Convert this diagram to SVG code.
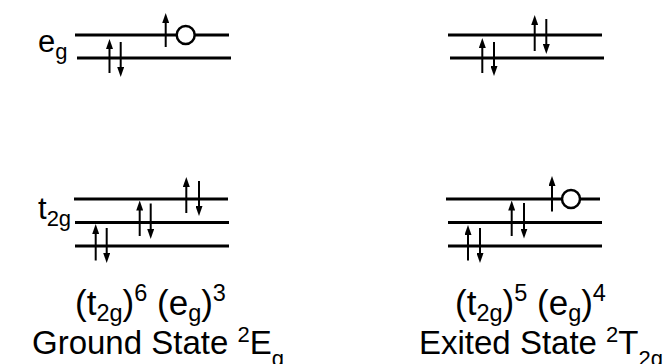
<svg xmlns="http://www.w3.org/2000/svg" width="666" height="364" viewBox="0 0 666 364">
<style>
.lvl{stroke:#000;stroke-width:2.8;fill:none}
.arr{stroke:#000;stroke-width:2;fill:none;marker-end:url(#ah)}
.hole{fill:#fff;stroke:#000;stroke-width:2.5}
text{font-family:"Liberation Sans",Arial,sans-serif;fill:#000}
.lab{font-size:31px}
.big{font-size:33px}
.cfg{font-size:35px}
.sm{font-size:22px}
.sm2{font-size:23.5px}
</style>
<defs>
<marker id="ah" markerUnits="userSpaceOnUse" markerWidth="10" markerHeight="7" refX="2" refY="3.5" orient="auto" viewBox="0 0 10 7">
<path d="M0,0 L10,3.5 L0,7 Z" fill="#000"/>
</marker>
</defs>
<g id="labels">
<text class="lab" x="38" y="52">e<tspan class="sm" dy="7">g</tspan></text>
<text class="lab" x="38" y="219">t<tspan class="sm" dy="7">2g</tspan></text>
</g>
<g id="ground-eg">
<line class="lvl" x1="75" y1="35" x2="229" y2="35"/>
<line class="lvl" x1="77" y1="58" x2="231" y2="58"/>
</g>
<g id="ground-t2g">
<line class="lvl" x1="74" y1="199" x2="228" y2="199"/>
<line class="lvl" x1="75" y1="222.5" x2="229" y2="222.5"/>
<line class="lvl" x1="75" y1="246" x2="229" y2="246"/>
</g>
<g id="excited-eg">
<line class="lvl" x1="448" y1="35" x2="602" y2="35"/>
<line class="lvl" x1="450" y1="58" x2="604" y2="58"/>
</g>
<g id="excited-t2g">
<line class="lvl" x1="446" y1="199" x2="600" y2="199"/>
<line class="lvl" x1="448" y1="222.5" x2="602" y2="222.5"/>
<line class="lvl" x1="448" y1="246" x2="602" y2="246"/>
</g>
<g id="connectors">
<line class="arr" x1="165.7" y1="47" x2="165.7" y2="21"/>
<line class="arr" x1="109.5" y1="73" x2="109.5" y2="47"/>
<line class="arr" x1="120.7" y1="42" x2="120.7" y2="69"/>
<line class="arr" x1="186.3" y1="213" x2="186.3" y2="185"/>
<line class="arr" x1="199" y1="181" x2="199" y2="208"/>
<line class="arr" x1="139.7" y1="236" x2="139.7" y2="208.5"/>
<line class="arr" x1="150.7" y1="203.5" x2="150.7" y2="231"/>
<line class="arr" x1="95.7" y1="260.5" x2="95.7" y2="232"/>
<line class="arr" x1="106.7" y1="228" x2="106.7" y2="255"/>
<line class="arr" x1="534.7" y1="51" x2="534.7" y2="23"/>
<line class="arr" x1="546.3" y1="19" x2="546.3" y2="46"/>
<line class="arr" x1="482.3" y1="73" x2="482.3" y2="46"/>
<line class="arr" x1="494" y1="42" x2="494" y2="68"/>
<line class="arr" x1="552" y1="211.5" x2="552" y2="184"/>
<line class="arr" x1="511.7" y1="236" x2="511.7" y2="208.5"/>
<line class="arr" x1="524" y1="203" x2="524" y2="230.5"/>
<line class="arr" x1="468" y1="260.5" x2="468" y2="233"/>
<line class="arr" x1="480" y1="228" x2="480" y2="255"/>
</g>
<g id="holes">
<circle class="hole" cx="185.7" cy="35" r="9"/>
<circle class="hole" cx="571" cy="199" r="9"/>
</g>
<g id="ground-caption">
<text class="cfg" x="75" y="315">(t<tspan class="sm2" dy="6">2g</tspan><tspan dy="-6">)</tspan><tspan class="sm2" dy="-14">6</tspan><tspan dy="14"> (e</tspan><tspan class="sm2" dy="6">g</tspan><tspan dy="-6">)</tspan><tspan class="sm2" dy="-14">3</tspan></text>
<text class="big" x="32" y="354">Ground State <tspan class="sm" dy="-12">2</tspan><tspan dy="12">E</tspan><tspan class="sm" dy="12">g</tspan></text>
</g>
<g id="excited-caption">
<text class="cfg" x="455" y="315">(t<tspan class="sm2" dy="6">2g</tspan><tspan dy="-6">)</tspan><tspan class="sm2" dy="-14">5</tspan><tspan dy="14"> (e</tspan><tspan class="sm2" dy="6">g</tspan><tspan dy="-6">)</tspan><tspan class="sm2" dy="-14">4</tspan></text>
<text class="big" x="419" y="354">Exited State <tspan class="sm" dy="-12">2</tspan><tspan dy="12">T</tspan><tspan class="sm" dy="12">2g</tspan></text>
</g>
</svg>
